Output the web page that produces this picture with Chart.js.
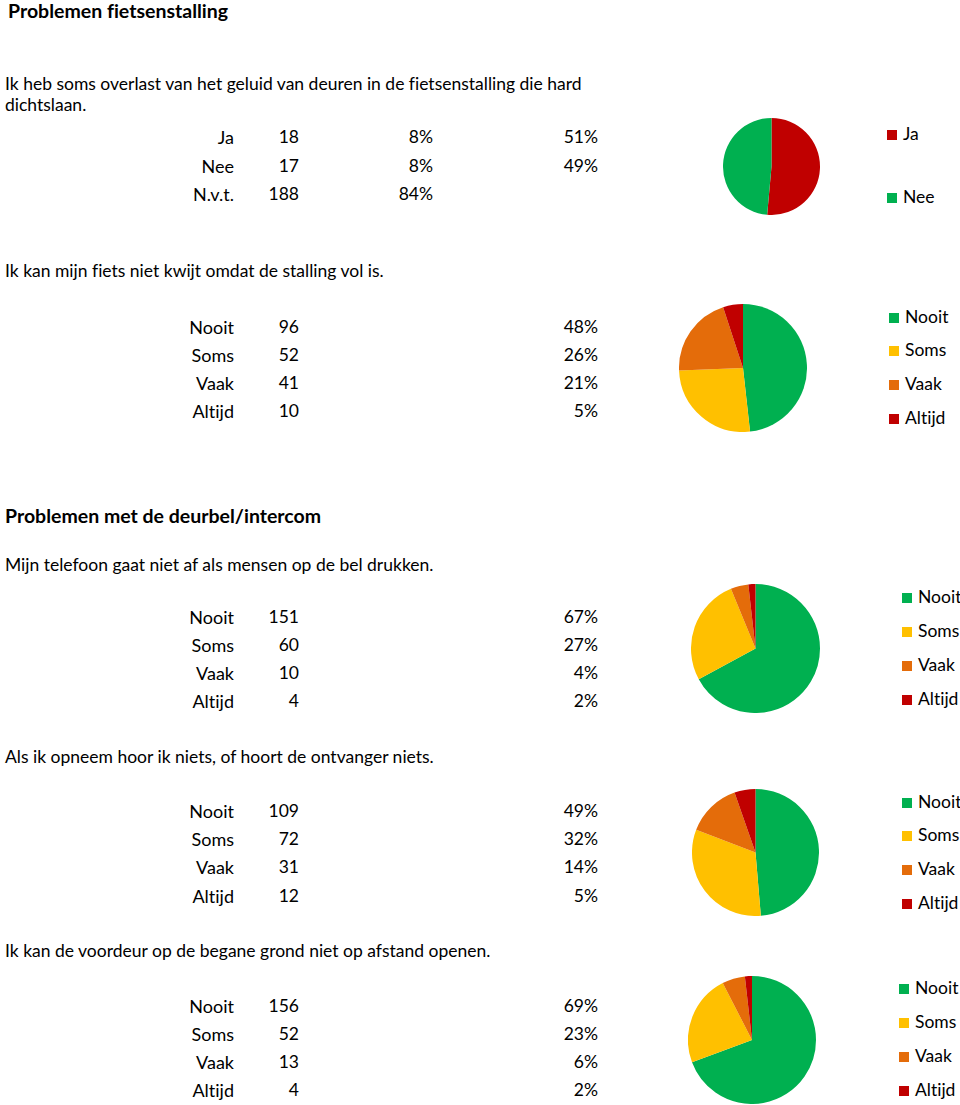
<!DOCTYPE html>
<html>
<head>
<meta charset="utf-8">
<script src="https://cdn.jsdelivr.net/npm/chart.js@4/dist/chart.umd.min.js"></script>
<style>
  html, body { margin: 0; padding: 0; background: #fff; }
  body { width: 960px; height: 1105px; position: relative; overflow: hidden;
         font-family: Lato, "Liberation Sans", sans-serif; color: #000; font-variant-ligatures: none; }
  .t { position: absolute; white-space: nowrap; font-size: 17.5px; line-height: 20px; transform: translateY(-50%); }
  .tb { font-size: 18px; }
  .r { text-align: right; }
  .b { font-weight: bold; font-size: 19.5px; }
  canvas { position: absolute; }
  .lg { position: absolute; white-space: nowrap; font-size: 17.5px; line-height: 20px; transform: translateY(-50%); }
  .lg span.box { display: inline-block; width: 10px; height: 10px; vertical-align: middle; margin-right: 6px; position: relative; top: -1px; }
</style>
</head>
<body>
<script>
// ---------- DATA ----------
const titles = ['Problemen fietsenstalling', 'Problemen met de deurbel/intercom'];
const questions = [
  'Ik heb soms overlast van het geluid van deuren in de fietsenstalling die hard|dichtslaan.',
  'Ik kan mijn fiets niet kwijt omdat de stalling vol is.',
  'Mijn telefoon gaat niet af als mensen op de bel drukken.',
  'Als ik opneem hoor ik niets, of hoort de ontvanger niets.',
  'Ik kan de voordeur op de begane grond niet op afstand openen.'
];
const categoriesQ1 = ['Ja', 'Nee', 'N.v.t.'];
const countsQ1 = [18, 17, 188];
const pctAllQ1 = ['8%', '8%', '84%'];
const pctAnsweredQ1 = ['51%', '49%'];
const pieLabelsQ1 = ['Ja', 'Nee'];
const pieColorsQ1 = ['#C00000', '#00B050'];

const categoriesFreq = ['Nooit', 'Soms', 'Vaak', 'Altijd'];
const freqColors = ['#00B050', '#FFC000', '#E46C0A', '#C00000'];
const countsQ2 = [96, 52, 41, 10];
const pctQ2 = ['48%', '26%', '21%', '5%'];
const countsQ3 = [151, 60, 10, 4];
const pctQ3 = ['67%', '27%', '4%', '2%'];
const countsQ4 = [109, 72, 31, 12];
const pctQ4 = ['49%', '32%', '14%', '5%'];
const countsQ5 = [156, 52, 13, 4];
const pctQ5 = ['69%', '23%', '6%', '2%'];

// ---------- LAYOUT ----------
function text(str, x, y, cls, right) {
  const d = document.createElement('div');
  d.className = 't ' + (cls || '');
  d.textContent = str;
  d.style.top = y + 'px';
  if (right !== undefined) { d.style.right = (960 - right) + 'px'; d.classList.add('r'); }
  else d.style.left = x + 'px';
  document.body.appendChild(d);
}
function table(labels, counts, pctCols, rowY) {
  labels.forEach((l, i) => {
    const y = rowY[i];
    text(l, 0, y, 'tb', 234);
    text(String(counts[i]), 0, y, '', 299);
    pctCols.forEach(col => { if (col.vals[i] !== undefined) text(col.vals[i], 0, y, '', col.right); });
  });
}
function legend(labels, colors, x, ys) {
  labels.forEach((l, i) => {
    const d = document.createElement('div');
    d.className = 'lg';
    d.style.left = x + 'px';
    d.style.top = ys[i] + 'px';
    const b = document.createElement('span');
    b.className = 'box';
    b.style.background = colors[i];
    d.appendChild(b);
    d.appendChild(document.createTextNode(l));
    document.body.appendChild(d);
  });
}
function pie(labels, values, colors, cx, cy, r) {
  const c = document.createElement('canvas');
  const s = Math.round(r * 2);
  c.width = s; c.height = s;
  c.style.width = s + 'px'; c.style.height = s + 'px';
  c.style.left = (cx - s / 2) + 'px'; c.style.top = (cy - s / 2) + 'px';
  document.body.appendChild(c);
  new Chart(c, {
    type: 'pie',
    data: { labels: labels, datasets: [{ data: values, backgroundColor: colors, borderWidth: 0, hoverOffset: 0, offset: 0 }] },
    options: {
      responsive: false, animation: false, devicePixelRatio: 1,
      layout: { padding: 0 },
      plugins: { legend: { display: false }, tooltip: { enabled: false } }
    }
  });
}

// Section 1
text(titles[0], 8, 11, 'b');
const q1 = questions[0].split('|');
text(q1[0], 5, 84);
text(q1[1], 5, 105);
table(categoriesQ1, countsQ1, [{ vals: pctAllQ1, right: 433 }, { vals: pctAnsweredQ1, right: 598 }], [137, 166, 194]);
pie(pieLabelsQ1, countsQ1.slice(0, 2), pieColorsQ1, 771.5, 166.5, 48.5);
legend(pieLabelsQ1, pieColorsQ1, 887, [134, 197]);

text(questions[1], 5, 271);
table(categoriesFreq, countsQ2, [{ vals: pctQ2, right: 598 }], [327, 355, 383, 411]);
pie(categoriesFreq, countsQ2, freqColors, 743, 368, 64);
legend(categoriesFreq, freqColors, 889, [317, 350, 384, 418]);

// Section 2
text(titles[1], 5, 516, 'b');
text(questions[2], 5, 565);
table(categoriesFreq, countsQ3, [{ vals: pctQ3, right: 598 }], [617, 645, 673, 701]);
pie(categoriesFreq, countsQ3, freqColors, 755.5, 648.5, 64.5);
legend(categoriesFreq, freqColors, 902, [597, 631, 665, 699]);

text(questions[3], 5, 757);
table(categoriesFreq, countsQ4, [{ vals: pctQ4, right: 598 }], [811, 839, 867, 896]);
pie(categoriesFreq, countsQ4, freqColors, 755.5, 852.5, 63.5);
legend(categoriesFreq, freqColors, 902, [802, 835, 869, 903]);

text(questions[4], 5, 951);
table(categoriesFreq, countsQ5, [{ vals: pctQ5, right: 598 }], [1006, 1034, 1062, 1090]);
pie(categoriesFreq, countsQ5, freqColors, 752, 1039.5, 64);
legend(categoriesFreq, freqColors, 899, [988, 1022, 1056, 1090]);
</script>
</body>
</html>
